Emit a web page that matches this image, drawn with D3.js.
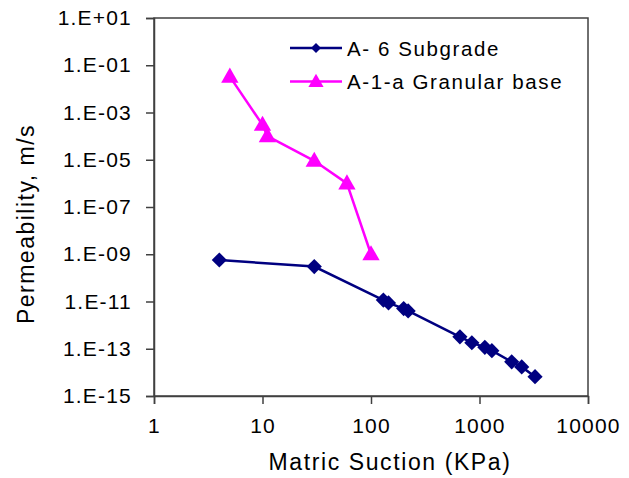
<!DOCTYPE html>
<html>
<head>
<meta charset="utf-8">
<script src="https://cdn.jsdelivr.net/npm/d3@7/dist/d3.min.js"></script>
<style>
  body { margin: 0; background: #fff; }
  text { font-family: "Liberation Sans", Arial, sans-serif; fill: #000; }
</style>
</head>
<body>
<script>
const W = 629, H = 478;
const margin = {top: 18, right: 41, bottom: 82, left: 154};

// A-6 subgrade
const suctionA6 = [4, 30, 130, 145, 200, 220, 660, 850, 1120, 1300, 1980, 2450, 3250];
const permA6 = [5.7e-10, 3e-10, 1.15e-11, 8.7e-12, 5e-12, 4e-12, 3.2e-13, 1.8e-13, 1.15e-13, 8.3e-14, 2.8e-14, 1.7e-14, 6.6e-15];
// A-1-a granular base
const suctionA1 = [5, 10, 11.1, 30, 60, 100];
const permA1 = [3.3e-2, 3e-4, 1e-4, 9e-6, 1e-6, 1e-9];

const xTicks = [1, 10, 100, 1000, 10000];
const yTicks = [1e1, 1e-1, 1e-3, 1e-5, 1e-7, 1e-9, 1e-11, 1e-13, 1e-15];
const yTickLabels = ['1.E+01', '1.E-01', '1.E-03', '1.E-05', '1.E-07', '1.E-09', '1.E-11', '1.E-13', '1.E-15'];
const seriesNames = ['A- 6 Subgrade', 'A-1-a Granular base'];

const w = W - margin.left - margin.right, h = H - margin.top - margin.bottom;

const svg = d3.select('body').append('svg')
    .attr('width', W).attr('height', H);

const g = svg.append('g').attr('transform', `translate(${margin.left},${margin.top})`);

const x = d3.scaleLog().domain([1, 10000]).range([0, w]);
const y = d3.scaleLog().domain([1e-15, 1e1]).range([h, 0]);

// frame
g.append('rect')
    .attr('x', 0).attr('y', 0).attr('width', w).attr('height', h)
    .attr('fill', 'none').attr('stroke', '#404040').attr('stroke-width', 1.5);

// axes
const xAxis = g.append('g').attr('transform', `translate(0,${h})`)
    .call(d3.axisBottom(x).tickValues(xTicks).tickFormat(d3.format('d')).tickSize(8).tickPadding(6));
const yAxis = g.append('g')
    .call(d3.axisLeft(y).tickValues(yTicks).tickFormat((d, i) => yTickLabels[i]).tickSize(8).tickPadding(14));

[xAxis, yAxis].forEach(a => {
    a.select('.domain').attr('stroke', '#404040').attr('stroke-width', 1.5);
    a.selectAll('.tick line').attr('stroke', '#404040').attr('stroke-width', 1.5);
    a.selectAll('.tick text')
        .attr('font-family', '"Liberation Sans", Arial, sans-serif')
        .attr('font-size', 21).attr('fill', '#000')
        .style('letter-spacing', '1.2px');
});
xAxis.selectAll('.tick text').attr('dy', '1.1em');

// axis titles
svg.append('text')
    .attr('x', 390).attr('y', 470)
    .attr('text-anchor', 'middle').attr('font-size', 23)
    .style('letter-spacing', '1.6px')
    .text('Matric Suction (KPa)');
svg.append('text')
    .attr('transform', 'translate(34,224) rotate(-90)')
    .attr('text-anchor', 'middle').attr('font-size', 23)
    .style('letter-spacing', '1.5px')
    .text('Permeability, m/s');

const line = d3.line().x(d => x(d[0])).y(d => y(d[1]));
const a6 = suctionA6.map((s, i) => [s, permA6[i]]);
const a1 = suctionA1.map((s, i) => [s, permA1[i]]);

g.append('path').attr('d', line(a6))
    .attr('fill', 'none').attr('stroke', '#000080').attr('stroke-width', 2.5);
g.selectAll('.a6').data(a6).enter().append('path')
    .attr('class', 'a6')
    .attr('d', d3.symbol().type(d3.symbolSquare).size(115)())
    .attr('transform', d => `translate(${x(d[0])},${y(d[1])}) rotate(45)`)
    .attr('fill', '#000080');

g.append('path').attr('d', line(a1))
    .attr('fill', 'none').attr('stroke', '#FF00FF').attr('stroke-width', 2.5);
g.selectAll('.a1').data(a1).enter().append('path')
    .attr('class', 'a1')
    .attr('d', d3.symbol().type(d3.symbolTriangle).size(130)())
    .attr('transform', d => `translate(${x(d[0])},${y(d[1]) + 1})`)
    .attr('fill', '#FF00FF');

// legend
const legend = svg.append('g').attr('transform', 'translate(290,48)');
const colors = ['#000080', '#FF00FF'];
seriesNames.forEach((name, i) => {
    const row = legend.append('g').attr('transform', `translate(0,${i * 33.5})`);
    row.append('line').attr('x1', 0).attr('x2', 52).attr('y1', 0).attr('y2', 0)
        .attr('stroke', colors[i]).attr('stroke-width', 2.5);
    if (i === 0) {
        row.append('path').attr('d', d3.symbol().type(d3.symbolSquare).size(50)())
            .attr('transform', 'translate(26,0) rotate(45)').attr('fill', colors[i]);
    } else {
        row.append('path').attr('d', d3.symbol().type(d3.symbolTriangle).size(100)())
            .attr('transform', 'translate(26,1)').attr('fill', colors[i]);
    }
    row.append('text').attr('x', 57).attr('y', 7.5).attr('font-size', 20.5)
        .style('letter-spacing', '1.6px')
        .text(name);
});
</script>
</body>
</html>
